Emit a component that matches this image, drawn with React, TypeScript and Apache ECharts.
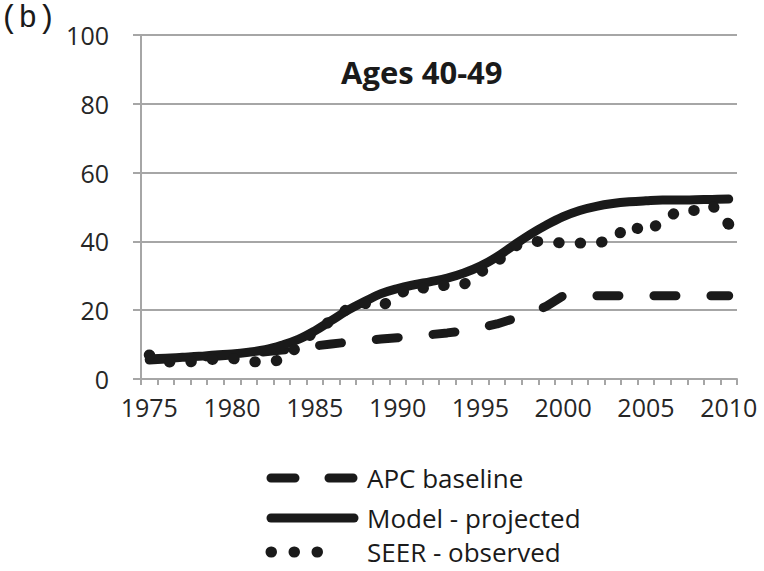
import React, { useEffect, useRef } from "react";
import * as echarts from "echarts";

const years: string[] = [];
for (let y = 1975; y <= 2010; y++) years.push(String(y));

const apcBaseline = [
  5.5, 5.8, 6.0, 6.3, 6.6, 7.0, 7.4, 7.9, 8.4, 9.0,
  9.6, 10.2, 10.7, 11.2, 11.6, 12.0, 12.4, 12.9, 13.4, 14.0,
  14.9, 16.0, 17.5, 19.0, 21.2, 24.2, 24.2, 24.2, 24.2, 24.2,
  24.2, 24.2, 24.2, 24.2, 24.2, 24.2,
];

const modelProjected = [
  5.8, 6.0, 6.3, 6.6, 7.0, 7.3, 7.8, 8.5, 9.8, 11.5,
  14.0, 17.0, 20.0, 22.5, 24.8, 26.3, 27.4, 28.3, 29.3, 30.8,
  32.8, 35.5, 38.8, 42.0, 44.8, 47.2, 49.0, 50.2, 51.0, 51.5,
  51.8, 52.0, 52.0, 52.1, 52.2, 52.3,
];

const seerObserved = [
  7.0, 5.0, 4.8, 5.2, 5.8, 6.0, 5.0, 5.0, 5.5, 9.5,
  14.0, 17.0, 20.5, 22.0, 21.0, 24.5, 27.0, 26.0, 27.5, 27.5,
  31.0, 34.0, 38.5, 40.0, 40.0, 39.5, 39.5, 39.5, 40.5, 45.0,
  42.5, 46.0, 49.0, 49.0, 50.5, 45.0,
];

const yTicks = { min: 0, max: 100, interval: 20 };
const seriesNames = ["APC baseline", "Model - projected", "SEER - observed"];
const titleText = "Ages 40-49";
const panelLabel = "(b)";

const FONT = "'Open Sans', sans-serif";
const INK = "#1a1a1a";
const GRID = "#a6a6a6";

const APC_DASH = [22, 35];
const SEER_DOT = [0.5, 21];

export default function App() {
  const ref = useRef<HTMLDivElement>(null);
  useEffect(() => {
    if (!ref.current) return;
    const chart = echarts.init(ref.current, undefined, { renderer: "svg" });

    // custom legend drawn as graphic elements
    const legendRows = [478, 518, 552];
    const legendGraphics: any[] = [];
    const iconStyles = [
      { lineWidth: 9, lineDash: [24, 34], lineCap: "round" },
      { lineWidth: 9, lineCap: "round" },
      { lineWidth: 11, lineDash: [0.5, 22.5], lineCap: "round" },
    ];
    const iconEnds = [353, 354, 339];
    seriesNames.forEach((name, i) => {
      legendGraphics.push({
        type: "line",
        shape: { x1: 271, y1: legendRows[i], x2: iconEnds[i], y2: legendRows[i] },
        style: { stroke: INK, fill: null, ...iconStyles[i] },
      });
      legendGraphics.push({
        type: "text",
        x: 367,
        y: legendRows[i],
        style: {
          text: name,
          font: `26px ${FONT}`,
          fill: INK,
          verticalAlign: "middle",
          align: "left",
        },
      });
    });

    const lastIdx = seerObserved.length - 1;
    const seerData = seerObserved.map((v, i) =>
      i === lastIdx ? { value: v, symbol: "circle", symbolSize: 11 } : v
    );

    chart.setOption({
      animation: false,
      backgroundColor: "#ffffff",
      grid: { left: 141, right: 27, top: 35, bottom: 192 },
      title: {
        text: titleText,
        left: 336,
        top: 51,
        textStyle: { fontFamily: FONT, fontSize: 31, fontWeight: "bold", color: INK },
      },
      graphic: [
        {
          type: "text",
          x: 0,
          y: 18,
          style: {
            text: panelLabel,
            font: "31px 'Liberation Mono', monospace",
            fill: INK,
            verticalAlign: "middle",
          },
        },
        ...legendGraphics,
      ],
      xAxis: {
        type: "category",
        data: years,
        boundaryGap: true,
        axisLine: { show: true, lineStyle: { color: GRID, width: 2 } },
        axisTick: { show: true, interval: 0, length: 6, lineStyle: { color: GRID, width: 2 } },
        axisLabel: {
          interval: 4,
          margin: 15,
          fontFamily: FONT,
          fontSize: 25,
          color: "#262626",
        },
        splitLine: { show: false },
      },
      yAxis: {
        type: "value",
        min: yTicks.min,
        max: yTicks.max,
        interval: yTicks.interval,
        axisLine: { show: true, lineStyle: { color: GRID, width: 2 } },
        axisTick: { show: true, length: 8, lineStyle: { color: GRID, width: 2 } },
        axisLabel: { margin: 32, fontFamily: FONT, fontSize: 25, color: "#262626" },
        splitLine: { show: true, lineStyle: { color: GRID, width: 2 } },
      },
      series: [
        {
          name: seriesNames[0],
          type: "line",
          data: apcBaseline,
          showSymbol: false,
          symbol: "none",
          lineStyle: { color: INK, width: 9, type: APC_DASH, cap: "round" },
          itemStyle: { color: INK },
          z: 2,
        },
        {
          name: seriesNames[1],
          type: "line",
          data: modelProjected,
          smooth: 0.4,
          showSymbol: false,
          symbol: "none",
          lineStyle: { color: INK, width: 9, cap: "round" },
          itemStyle: { color: INK },
          z: 3,
        },
        {
          name: seriesNames[2],
          type: "line",
          data: seerData,
          showSymbol: true,
          showAllSymbol: true,
          symbol: "none",
          lineStyle: { color: INK, width: 11, type: SEER_DOT, cap: "round" },
          itemStyle: { color: INK, borderWidth: 0 },
          z: 4,
        },
      ],
    });
    return () => chart.dispose();
  }, []);
  return (
    <div
      ref={ref}
      style={{ position: "fixed", left: 0, top: 0, width: 764, height: 571 }}
    />
  );
}
